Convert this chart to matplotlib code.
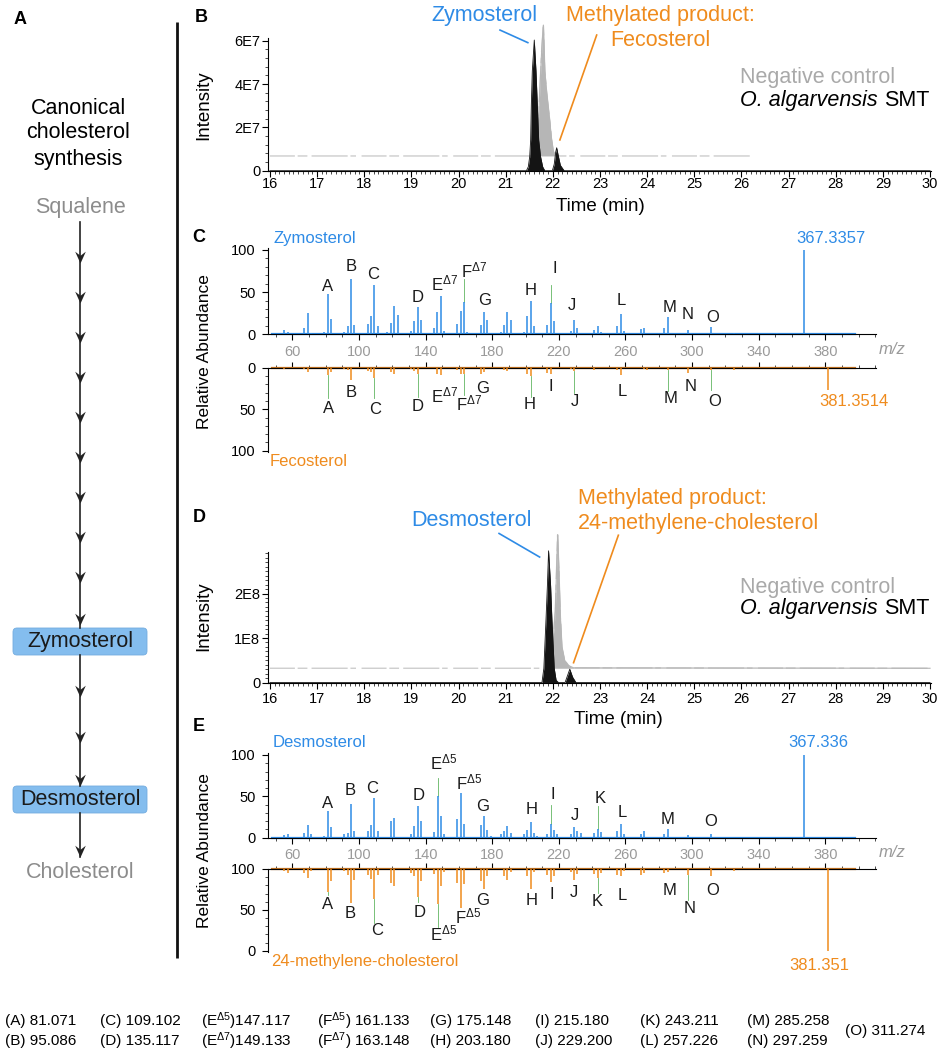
import numpy as np
import matplotlib
matplotlib.use('Agg')
import matplotlib.pyplot as plt
from matplotlib.path import Path
from matplotlib.patches import FancyBboxPatch
from matplotlib.ticker import MultipleLocator, FixedLocator

plt.rcParams['font.family'] = ['Liberation Sans', 'DejaVu Sans']
plt.rcParams['mathtext.fontset'] = 'custom'
plt.rcParams['mathtext.rm'] = 'Liberation Sans'
plt.rcParams['mathtext.it'] = 'Liberation Sans:italic'
plt.rcParams['mathtext.bf'] = 'Liberation Sans:bold'
plt.rcParams['axes.linewidth'] = 0.8

BLUE = '#2e8be6'
ORANGE = '#ef8b1d'
GREEN = '#62b562'
LIGHT = '#a9a9a9'
GREY = '#8c8c8c'

# ---- chromatograms: time (min) / intensity ----
# B: zymosterol assay (intensity x1e7)
b_time_smt = [16.0, 21.44, 21.48, 21.51, 21.53, 21.545, 21.565, 21.607, 21.643, 21.67,
              21.70, 21.74, 21.785, 21.83, 21.99, 22.03, 22.06, 22.082, 22.11, 22.16, 22.24, 30.0]
b_int_smt = [0, 0, 0.18, 0.65, 1.42, 3.1, 4.6, 6.03, 4.6, 3.1,
             1.42, 0.65, 0.18, 0, 0, 0.3, 0.85, 1.06, 0.75, 0.25, 0, 0]
b_time_ctrl = [16.0, 21.55, 21.65, 21.69, 21.73, 21.765, 21.80, 21.83, 21.87, 21.90,
               21.94, 21.97, 22.01, 22.05, 22.10, 26.2]
b_int_ctrl = [0.68, 0.68, 1.2, 2.0, 4.0, 5.6, 6.72, 4.6, 3.6, 3.0,
              2.2, 1.5, 0.9, 0.72, 0.68, 0.68]

# D: desmosterol assay (intensity x1e8)
d_time_smt = [16.0, 21.77, 21.81, 21.856, 21.885, 21.91, 21.953, 21.98, 22.03, 22.07,
              22.12, 22.26, 22.31, 22.36, 22.42, 22.49, 30.0]
d_int_smt = [0, 0, 0.32, 1.43, 2.18, 2.96, 2.18, 1.43, 0.32, 0.05,
             0, 0, 0.15, 0.30, 0.12, 0, 0]
d_time_ctrl = [16.0, 21.85, 21.95, 22.00, 22.053, 22.081, 22.102, 22.13, 22.159, 22.193,
               22.25, 22.334, 22.44, 30.0]
d_int_ctrl = [0.32, 0.32, 0.5, 0.9, 1.6, 2.6, 3.32, 2.5, 1.5, 0.8,
              0.5, 0.38, 0.33, 0.32]

# ---- mass spectra: m/z / relative abundance ----
zymo_mz = [55.05, 57.07, 67.05, 69.07, 71.09, 79.05, 81.071, 83.09, 91.05, 93.07, 95.086, 97.1,
           105.07, 107.09, 109.102, 111.1, 117.07, 119.09, 121.1, 123.1, 131.09, 133.1, 135.117,
           137.1, 145.1, 147.1, 149.133, 151.1, 159.1, 161.1, 163.148, 165.1, 173.1, 175.148,
           177.1, 185.1, 187.1, 189.1, 191.1, 199.1, 201.1, 203.180, 205.1, 213.1, 215.180,
           217.1, 227.1, 229.200, 231.1, 241.1, 243.2, 245.2, 255.2, 257.226, 259.2, 269.2,
           271.2, 283.2, 285.258, 297.259, 299.2, 311.274, 325.3, 351.3, 367.3357]
zymo_int = [5, 3, 8, 25, 2, 3, 48, 18, 3, 10, 66, 11,
            12, 22, 59, 10, 3, 13, 33, 23, 4, 16, 32,
            17, 7, 26, 45, 4, 12, 28, 38, 3, 11, 27,
            17, 3, 11, 26, 17, 3, 22, 40, 10, 11, 37,
            16, 4, 17, 8, 5, 10, 3, 10, 24, 4, 6,
            8, 8, 20, 5, 2, 9, 2, 1, 100]

feco_mz = [55.05, 67.05, 69.07, 81.071, 83.09, 91.05, 93.07, 95.086, 105.07, 107.09, 109.102,
           119.09, 121.1, 131.09, 133.1, 135.117, 147.1, 149.133, 159.1, 161.1, 163.148, 173.1,
           175.148, 187.1, 189.1, 201.1, 203.180, 213.1, 215.180, 227.1, 229.200, 241.1,
           255.2, 257.226, 271.2, 273.2, 285.258, 297.259, 311.274, 325.3, 381.3514]
feco_int = [2, 2, 5, 9, 5, 2, 3, 15, 4, 5, 12,
            5, 7, 2, 4, 7, 8, 9, 3, 7, 8, 7,
            5, 3, 4, 8, 10, 6, 8, 2, 4, 3,
            3, 9, 2, 3, 3, 6, 3, 3, 27]

desmo_mz = [55.05, 57.07, 67.05, 69.07, 71.09, 79.05, 81.071, 83.09, 91.05, 93.07, 95.086, 97.1,
            105.07, 107.09, 109.102, 111.1, 119.09, 121.1, 131.09, 133.1, 135.117, 137.1, 145.1,
            147.117, 149.1, 151.1, 159.1, 161.133, 163.1, 173.1, 175.148, 177.1, 179.1, 185.1,
            187.1, 189.1, 191.1, 199.1, 201.1, 203.180, 205.1, 207.1, 213.1, 215.180, 217.1,
            219.1, 227.1, 229.200, 231.1, 233.1, 241.1, 243.211, 245.2, 255.2, 257.226, 259.2,
            269.2, 271.2, 283.2, 285.258, 297.259, 311.274, 367.336]
desmo_int = [3, 4, 6, 15, 4, 2, 32, 13, 4, 6, 41, 8,
             8, 15, 48, 8, 20, 24, 4, 14, 38, 20, 7,
             51, 26, 5, 23, 54, 16, 15, 26, 9, 2, 4,
             8, 14, 6, 4, 9, 19, 6, 2, 5, 17, 9,
             4, 4, 13, 8, 6, 6, 11, 7, 8, 16, 4,
             5, 8, 4, 10, 3, 4, 100]

methyl_mz = [55.05, 57.07, 67.05, 69.07, 71.09, 81.071, 83.09, 91.05, 93.07, 95.086, 97.1,
             105.07, 107.09, 109.102, 111.1, 119.09, 121.1, 131.09, 133.1, 135.117, 137.1, 145.1,
             147.117, 149.1, 151.1, 159.1, 161.133, 163.1, 173.1, 175.148, 177.1, 187.1, 189.1,
             191.1, 201.1, 203.180, 205.1, 213.1, 215.180, 217.1, 227.1, 229.200, 231.1, 241.1,
             243.211, 245.2, 255.2, 257.226, 259.2, 269.2, 271.2, 283.2, 285.258, 297.259,
             311.274, 325.3, 381.351]
methyl_int = [2, 5, 5, 11, 3, 28, 15, 3, 7, 41, 13,
              7, 12, 37, 7, 17, 21, 5, 9, 34, 15, 6,
              43, 21, 4, 17, 48, 18, 15, 24, 9, 9, 13,
              4, 9, 24, 4, 7, 16, 9, 4, 13, 6, 6,
              11, 5, 7, 9, 3, 7, 5, 5, 4, 7,
              8, 3, 100]

# fragment ions listed under the figure
frag_keys = ['A', 'B', 'C', 'D', 'E5', 'E7', 'F5', 'F7', 'G', 'H', 'I', 'J', 'K', 'L', 'M', 'N', 'O']
frag_mz = [81.071, 95.086, 109.102, 135.117, 147.117, 149.133, 161.133, 163.148, 175.148,
           203.180, 215.180, 229.200, 243.211, 257.226, 285.258, 297.259, 311.274]

TAG_TEXT = {k: k for k in frag_keys}
TAG_TEXT.update({'E5': r'E$^{\Delta5}$', 'E7': r'E$^{\Delta7}$',
                 'F5': r'F$^{\Delta5}$', 'F7': r'F$^{\Delta7}$'})

# label placement (m/z, height) and leader line ends (m/z, height)
c_top_tags = [('A', 81.1, 56.5), ('B', 95.1, 80.2), ('C', 108.5, 71.5), ('D', 135.4, 43.9),
              ('E7', 151.4, 56.5), ('F7', 168.8, 72.3), ('G', 175.4, 39.9), ('H', 202.8, 51.8),
              ('I', 217.6, 78.3), ('J', 227.6, 34.0), ('L', 257.4, 39.5), ('M', 286.2, 32.0),
              ('N', 297.6, 22.9), ('O', 312.5, 20.2)]
c_top_leads = [(163.148, 65), (215.180, 59)]
c_bot_tags = [('A', 81.4, 49), ('B', 95.1, 29.7), ('C', 109.8, 50.2), ('D', 135.0, 46.2),
              ('E7', 151.5, 37), ('F7', 166.2, 47), ('G', 174.4, 24.9), ('H', 202.6, 44.2),
              ('I', 215.3, 22.9), ('J', 229.4, 40.2), ('L', 257.8, 28.9), ('M', 287.3, 37),
              ('N', 299.1, 22.9), ('O', 313.7, 41)]
c_bot_leads = [(81.071, 37), (109.102, 37), (135.117, 35), (163.148, 33), (203.180, 35),
               (229.200, 31), (285.258, 28), (311.274, 27)]
e_top_tags = [('A', 80.8, 41.9), ('B', 94.9, 57.3), ('C', 108.0, 58.9), ('D', 135.7, 50.8),
              ('E5', 150.6, 87.4), ('F5', 165.8, 63.8), ('G', 174.2, 37.8), ('H', 203.4, 33.7),
              ('I', 216.4, 52), ('J', 229.4, 26.4), ('K', 244.8, 47.6), ('L', 257.8, 30.5),
              ('M', 285.2, 22.4), ('O', 311.3, 19.5)]
e_top_leads = [(147.117, 72.4), (215.180, 39.8), (243.211, 37.8)]
e_bot_tags = [('A', 80.8, 42.9), ('B', 94.7, 55), ('C', 110.9, 74.7), ('D', 136.3, 53),
              ('E5', 150.5, 82.9), ('F5', 165.2, 61.6), ('G', 174.5, 38.8), ('H', 203.4, 38.8),
              ('I', 215.5, 31.8), ('J', 228.8, 29), ('K', 243.3, 40), ('L', 258.3, 33),
              ('M', 286.7, 25.7), ('N', 298.8, 48.2), ('O', 312.1, 26.5)]
e_bot_leads = [(81.071, 31.8), (109.102, 66.5), (135.117, 40), (147.117, 70.6),
               (243.211, 29.8), (297.259, 38)]

W, H = 946, 1055
fig = plt.figure(figsize=(W / 100, H / 100), dpi=100)


def px_box(l, t, r, b):
    return [l / W, 1 - b / H, (r - l) / W, (b - t) / H]


# full-figure overlay in pixel units for the scheme and free text
ov = fig.add_axes([0, 0, 1, 1])
ov.set_xlim(0, W)
ov.set_ylim(H, 0)
ov.axis('off')


def chrom_axes(t, b, ymax, yticks, ylabels, yminor, xpad):
    ax = fig.add_axes(px_box(268, t, 931, b))
    ax.set_xlim(15.96, 30.02)
    ax.set_ylim(0, ymax)
    ax.patch.set_alpha(0)
    for s in ('top', 'right'):
        ax.spines[s].set_visible(False)
    ax.xaxis.set_major_locator(MultipleLocator(1))
    ax.xaxis.set_minor_locator(MultipleLocator(0.1))
    ax.set_yticks(yticks)
    ax.set_yticklabels(ylabels)
    ax.yaxis.set_minor_locator(MultipleLocator(yminor))
    ax.tick_params(which='major', length=4, width=0.8, labelsize=10.5)
    ax.tick_params(which='minor', length=2, width=0.5)
    ax.tick_params(axis='x', which='major', pad=xpad)
    ax.tick_params(axis='y', which='major', pad=1.5)
    return ax


def draw_chrom(ax, t_smt, i_smt, t_ctrl, i_ctrl, scale):
    tc = np.array(t_ctrl)
    ic = np.array(i_ctrl) * scale
    # control trace: flat stretches as a broken light line, peak as a solid grey area
    ax.plot(tc, ic, color='#cdcdcd', lw=1.0, ls=(0, (18, 2, 7, 3, 26, 2, 4, 4)),
            clip_on=False, zorder=2)
    peak = ic > ic[0]
    lo = max(np.argmax(peak) - 1, 0)
    hi = len(ic) - np.argmax(peak[::-1])
    ax.fill_between(tc[lo:hi + 1], ic[0], ic[lo:hi + 1], color='#b6b6b6', lw=0,
                    clip_on=False, zorder=2)
    ax.plot(tc[lo:hi + 1], ic[lo:hi + 1], color='#b6b6b6', lw=0.8, clip_on=False, zorder=2)
    ts = np.array(t_smt)
    iv = np.array(i_smt) * scale
    ax.fill_between(ts, 0, iv, color='#141414', lw=0, clip_on=False, zorder=3)
    ax.plot(ts, iv, color='#141414', lw=0.6, clip_on=False, zorder=3)


def spec_axes(t, b, upper, ylabels):
    ax = fig.add_axes(px_box(268, t, 876.4, b))
    ax.set_xlim(45.3, 410.7)
    ax.patch.set_alpha(0)
    ax.xaxis.set_major_locator(FixedLocator(range(60, 381, 40)))
    ax.xaxis.set_minor_locator(MultipleLocator(10))
    ax.yaxis.set_minor_locator(MultipleLocator(10))
    ax.spines['right'].set_visible(False)
    if upper:
        ax.set_ylim(0, 102)
        ax.spines['top'].set_visible(False)
        ax.set_yticks([0, 50, 100])
        ax.tick_params(axis='x', labelcolor='#9a9a9a', labelsize=10.5, pad=3.5)
    else:
        ax.set_ylim(-101.2, 0)
        ax.spines['bottom'].set_visible(False)
        ax.xaxis.tick_top()
        ax.tick_params(axis='x', labeltop=False)
        ax.set_yticks([0, -50, -100])
    ax.set_yticklabels(ylabels)
    ax.tick_params(which='major', length=4, width=0.8)
    ax.tick_params(which='minor', length=2, width=0.5)
    ax.tick_params(axis='y', labelsize=10.5, pad=5)
    return ax


def draw_spec(ax, mz, inten, color, sign, tags, leads):
    mz = np.array(mz)
    iv = np.array(inten) * sign
    ax.vlines(mz, 0, iv, color=color, lw=1.1, zorder=3)
    base_col = BLUE if sign > 0 else '#c0701e'
    ax.plot([48, 398], [0, 0], color=base_col, lw=1.6, zorder=2, clip_on=False)
    height = dict(zip(mz, inten))
    for x, end in leads:
        ax.plot([x, x], [sign * height[x], sign * end], color=GREEN, lw=0.6, zorder=2)
    for key, x, y in tags:
        s = TAG_TEXT[key]
        dy = 3.5 if '$' in s else 0
        ax.text(x, sign * y + dy, s, ha='center', va='center', fontsize=12,
                color='#1a1a1a', clip_on=False)


# ---- panel B ----
axB = chrom_axes(38.3, 170.7, 6.11e7, [0, 2e7, 4e7, 6e7], ['0', '2E7', '4E7', '6E7'], 0.4e7, 0.5)
draw_chrom(axB, b_time_smt, b_int_smt, b_time_ctrl, b_int_ctrl, 1e7)
axB.plot([20.88, 21.47], [6.49e7, 5.91e7], color=BLUE, lw=1.2, clip_on=False)
axB.plot([22.93, 22.15], [6.26e7, 1.42e7], color=ORANGE, lw=1.2, clip_on=False)

# ---- panel D ----
axD = chrom_axes(551.7, 682.5, 2.94e8, [0, 1e8, 2e8], ['0', '1E8', '2E8'], 0.1e8, 2.5)
draw_chrom(axD, d_time_smt, d_int_smt, d_time_ctrl, d_int_ctrl, 1e8)
axD.plot([20.86, 21.72], [3.35e8, 2.82e8], color=BLUE, lw=1.2, clip_on=False)
axD.plot([23.39, 22.44], [3.31e8, 0.445e8], color=ORANGE, lw=1.2, clip_on=False)

# ---- panel C ----
axC1 = spec_axes(248.3, 334.3, True, ['0', '50', '100'])
draw_spec(axC1, zymo_mz, zymo_int, BLUE, 1, c_top_tags, c_top_leads)
axC1.text(48.7, 113.9, 'Zymosterol', color=BLUE, fontsize=12, ha='left', va='center')
axC1.text(383.4, 113.9, '367.3357', color=BLUE, fontsize=12, ha='center', va='center')
axC2 = spec_axes(367.7, 451.7, False, ['0', '50', '100'])
draw_spec(axC2, feco_mz, feco_int, ORANGE, -1, c_bot_tags, c_bot_leads)
axC2.text(397, -41, '381.3514', color=ORANGE, fontsize=12, ha='center', va='center')
axC2.text(46.5, -113, 'Fecosterol', color=ORANGE, fontsize=12, ha='left', va='center',
          clip_on=False)

# ---- panel E ----
axE1 = spec_axes(753.3, 837.7, True, ['0', '50', '100'])
draw_spec(axE1, desmo_mz, desmo_int, BLUE, 1, e_top_tags, e_top_leads)
axE1.text(47.9, 115, 'Desmosterol', color=BLUE, fontsize=12, ha='left', va='center')
axE1.text(376, 115, '367.336', color=BLUE, fontsize=12, ha='center', va='center')
axE2 = spec_axes(869, 951.7, False, ['100', '50', '0'])
draw_spec(axE2, methyl_mz, methyl_int, ORANGE, -1, e_bot_tags, e_bot_leads)
axE2.text(376.2, -117.5, '381.351', color=ORANGE, fontsize=12, ha='center', va='center',
          clip_on=False)
axE2.text(47.3, -113.6, '24-methylene-cholesterol', color=ORANGE, fontsize=12, ha='left',
          va='center', clip_on=False)

# ---- axis titles and annotations ----
for x, y, s in [(201, 18, 'B'), (199, 238, 'C'), (199, 517.5, 'D'), (199, 726.5, 'E'), (20, 20, 'A')]:
    ov.text(x, y, s, fontsize=13, fontweight='bold', ha='center', va='center')
for y in (105, 615.7):
    ov.text(204, y, 'Intensity', rotation=90, fontsize=13.5, ha='center', va='center')
for y in (351.7, 850.7):
    ov.text(204, y, 'Relative Abundance', rotation=90, fontsize=12.5, ha='center', va='center')
ov.text(600.4, 206.7, 'Time (min)', fontsize=13.5, ha='center', va='center')
ov.text(618, 720, 'Time (min)', fontsize=13.5, ha='center', va='center')
for y in (350, 852.7):
    ov.text(892, y, 'm/z', fontsize=12, style='italic', color='#9a9a9a', ha='center', va='center')

big = 15.5
ov.text(484.5, 16, 'Zymosterol', color=BLUE, fontsize=big, ha='center', va='center')
ov.text(660, 16, 'Methylated product:', color=ORANGE, fontsize=big, ha='center', va='center')
ov.text(660.8, 40, 'Fecosterol', color=ORANGE, fontsize=big, ha='center', va='center')
ov.text(471.8, 520, 'Desmosterol', color=BLUE, fontsize=big, ha='center', va='center')
ov.text(577.6, 498.3, 'Methylated product:', color=ORANGE, fontsize=big, ha='left', va='center')
ov.text(577.6, 523.3, '24-methylene-cholesterol', color=ORANGE, fontsize=big, ha='left', va='center')
for y1, y2 in [(78, 106), (587.3, 614)]:
    ov.text(740, y1, 'Negative control', color=LIGHT, fontsize=big, ha='left', va='center')
    sp = ov.text(740, y2, 'O. algarvensis', style='italic', fontsize=big, ha='left',
                 va='baseline')
    ov.annotate('SMT', xy=(1, y2), xycoords=(sp, 'data'), xytext=(4.5, 0),
                textcoords='offset points', fontsize=big, ha='left', va='baseline')

# ---- panel A: pathway scheme ----
ov.plot([177, 177], [22, 958], color='#111111', lw=2.0, solid_capstyle='butt')
for y, s in [(108, 'Canonical'), (133, 'cholesterol'), (160, 'synthesis')]:
    ov.text(78, y, s, fontsize=big, ha='center', va='center')
ov.text(80, 208, 'Squalene', color=GREY, fontsize=big, ha='center', va='center')
ov.text(80, 872, 'Cholesterol', color=GREY, fontsize=big, ha='center', va='center')
for y0, y1 in [(222, 628), (655, 786), (813, 857)]:
    ov.plot([80, 80], [y0, y1], color='#222222', lw=1.2)
head = Path([(0, 0), (-0.45, 1.0), (0, 0.65), (0.45, 1.0), (0, 0)],
            [Path.MOVETO, Path.LINETO, Path.LINETO, Path.LINETO, Path.CLOSEPOLY])
tips = [263, 303, 343, 383, 423, 463, 503, 543, 583, 625, 697, 743, 786, 857]
ov.plot([80] * len(tips), tips, ls='none', marker=head, ms=17, color='#222222', mew=0)
for yt, name in [(628, 'Zymosterol'), (786, 'Desmosterol')]:
    ov.add_patch(FancyBboxPatch((13, yt), 134, 27, boxstyle='round,pad=0,rounding_size=4',
                                fc='#84bdee', ec='#74acdf', lw=0.6))
    ov.text(80, yt + 13.5, name, fontsize=big, ha='center', va='center', color='#1a1a1a')

# ---- fragment list ----
col_x = [5, 100, 201, 317, 430, 535, 640, 747]
for i, (key, mz) in enumerate(zip(frag_keys, frag_mz)):
    lab = TAG_TEXT[key]
    sep = '' if key in ('E5', 'E7') else ' '
    s = f'({lab}){sep}{mz:.3f}'
    if key == 'O':
        ov.text(845, 1031, s, fontsize=11, ha='left', va='center')
    else:
        ov.text(col_x[i // 2], 1021.5 if i % 2 == 0 else 1041.5, s, fontsize=11,
                ha='left', va='center')

fig.savefig('out.png', dpi=100)
